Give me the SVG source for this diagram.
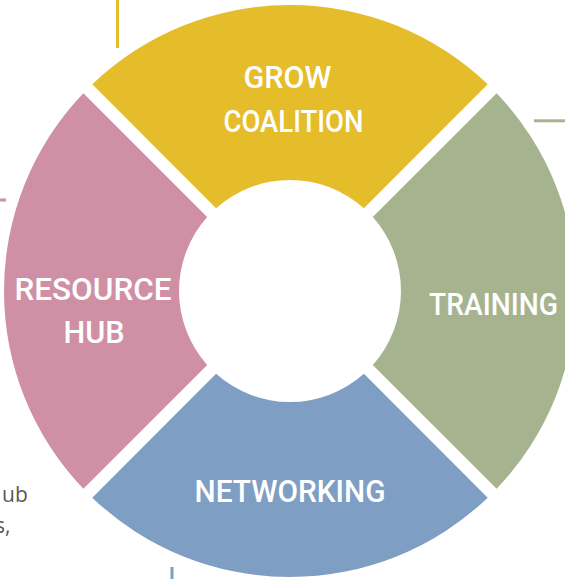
<svg xmlns="http://www.w3.org/2000/svg" width="565" height="579" viewBox="0 0 565 579">
<style>
.lbl{font-family:Roboto,"Liberation Sans",sans-serif;font-size:31.5px;fill:#ffffff;font-weight:500}
.side{font-family:"Open Sans","Liberation Sans",sans-serif;font-size:21px;fill:#595959}
.ln{fill:none;stroke-width:3}
</style>
<rect width="565" height="579" fill="#ffffff"/>
<g id="connectors">
<line class="ln" x1="117.5" y1="0" x2="117.5" y2="48" stroke="#E5BC29"/>
<line class="ln" x1="534" y1="120.8" x2="565" y2="120.8" stroke="#A5B38F"/>
<line class="ln" x1="0" y1="200" x2="6" y2="200" stroke="#CF8FA4"/>
<line class="ln" x1="172" y1="567" x2="172" y2="579" stroke="#7F9EC3"/>
</g>
<g id="grow-coalition">
<path d="M 92.27 84.36 A 286 286 0 0 1 487.73 84.36 L 363.91 208.18 A 111 111 0 0 0 216.09 208.18 Z" fill="#E5BC29"/>
<text class="lbl" x="243.5" y="88" textLength="88" lengthAdjust="spacingAndGlyphs">GROW</text>
<text class="lbl" x="223.5" y="132" textLength="140" lengthAdjust="spacingAndGlyphs">COALITION</text>
</g>
<g id="training">
<path d="M 496.64 93.27 A 286 286 0 0 1 496.64 488.73 L 372.82 364.91 A 111 111 0 0 0 372.82 217.09 Z" fill="#A5B38F"/>
<text class="lbl" x="429" y="315" textLength="129" lengthAdjust="spacingAndGlyphs">TRAINING</text>
</g>
<g id="networking">
<path d="M 487.73 497.64 A 286 286 0 0 1 92.27 497.64 L 216.09 373.82 A 111 111 0 0 0 363.91 373.82 Z" fill="#7F9EC3"/>
<text class="lbl" x="194.5" y="501.5" textLength="191" lengthAdjust="spacingAndGlyphs">NETWORKING</text>
</g>
<g id="resource-hub">
<path d="M 83.36 488.73 A 286 286 0 0 1 83.36 93.27 L 207.18 217.09 A 111 111 0 0 0 207.18 364.91 Z" fill="#CF8FA4"/>
<text class="lbl" x="14.5" y="300" textLength="157" lengthAdjust="spacingAndGlyphs">RESOURCE</text>
<text class="lbl" x="63.5" y="343" textLength="61" lengthAdjust="spacingAndGlyphs">HUB</text>
</g>
<g id="side-text">
<text class="side" x="2" y="502">ub</text>
<text class="side" x="-5" y="533">s,</text>
</g>
</svg>
